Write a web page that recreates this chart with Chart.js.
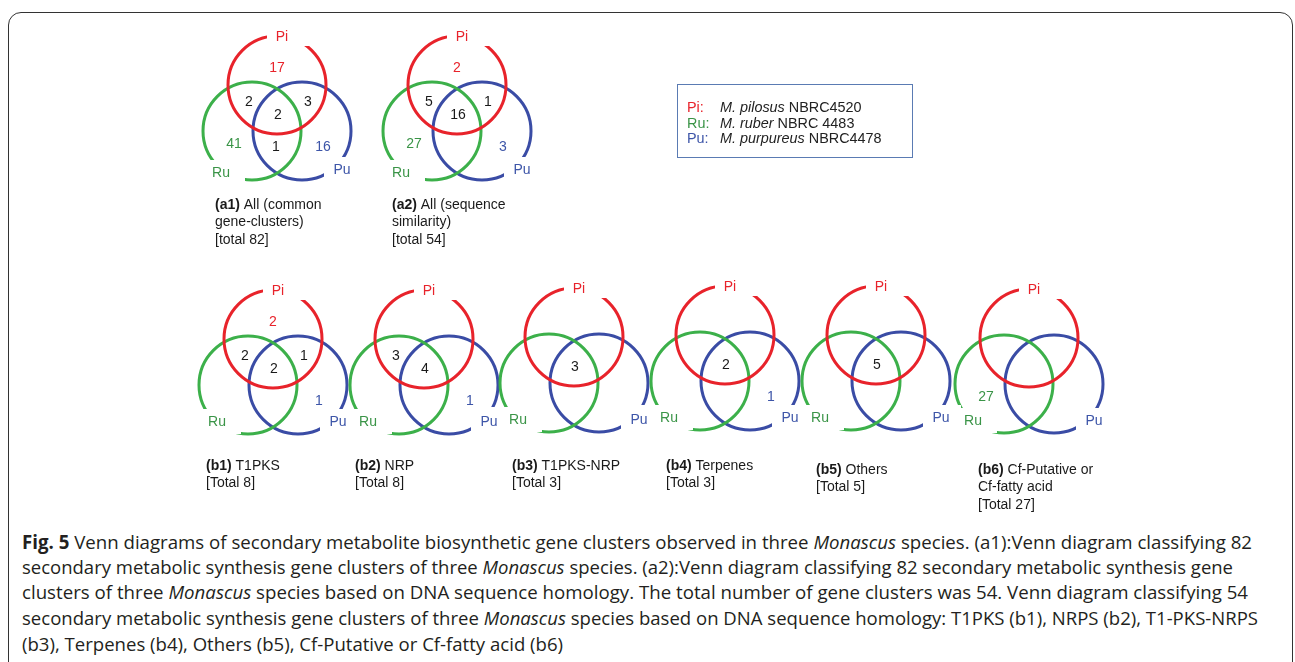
<!DOCTYPE html>
<html>
<head>
<meta charset="utf-8">
<script src="https://cdn.jsdelivr.net/npm/chart.js@4.4.0/dist/chart.umd.min.js"></script>
<style>
    body { margin: 0; background: #fff; width: 1295px; height: 662px; overflow: hidden; position: relative; font-family: "Liberation Sans", Arial, sans-serif; }
    #frame { position: absolute; left: 8px; top: 12px; width: 1285px; height: 720px; border: 1.5px solid #333; border-radius: 13px; box-sizing: border-box; }
    #venn { position: absolute; left: 0; top: 0; }
    #key { position: absolute; left: 677px; top: 84px; width: 236px; height: 74px; border: 1.5px solid #5a7bb3; box-sizing: border-box; padding: 15px 0 0 9px; font-size: 14.4px; line-height: 15.5px; color: #222; }
    #key div { white-space: nowrap; }
    #key b { display: inline-block; width: 33px; font-weight: normal; }
    .cap { position: absolute; left: 22px; white-space: nowrap; font-family: "Open Sans", sans-serif; font-size: 19px; line-height: 26px; color: #231f20; transform-origin: 0 50%; display: inline-block; }
</style>
</head>
<body>
<div id="frame"></div>
<canvas id="venn" width="1295" height="520"></canvas>
<div id="key">
    <div><b style="color:#e8232b">Pi:</b><i>M. pilosus</i> NBRC4520</div>
    <div><b style="color:#3a9447">Ru:</b><i>M. ruber</i> NBRC 4483</div>
    <div><b style="color:#3d55a8">Pu:</b><i>M. purpureus</i> NBRC4478</div>
</div>
<span class="cap" style="top:529px"><b style="font-weight:700">Fig. 5</b> Venn diagrams of secondary metabolite biosynthetic gene clusters observed in three <i>Monascus</i> species. (a1):Venn diagram classifying 82</span>
<span class="cap" style="top:554px">secondary metabolic synthesis gene clusters of three <i>Monascus</i> species. (a2):Venn diagram classifying 82 secondary metabolic synthesis gene</span>
<span class="cap" style="top:579px">clusters of three <i>Monascus</i> species based on DNA sequence homology. The total number of gene clusters was 54. Venn diagram classifying 54</span>
<span class="cap" style="top:605px">secondary metabolic synthesis gene clusters of three <i>Monascus</i> species based on DNA sequence homology: T1PKS (b1), NRPS (b2), T1-PKS-NRPS</span>
<span class="cap" style="top:631px">(b3), Terpenes (b4), Others (b5), Cf-Putative or Cf-fatty acid (b6)</span>
<script>
// Données des diagrammes
const panels = ["(a1)", "(a2)", "(b1)", "(b2)", "(b3)", "(b4)", "(b5)", "(b6)"];
const panelTitles = [
    ["All (common", "gene-clusters)", "[total 82]"],
    ["All (sequence", "similarity)", "[total 54]"],
    ["T1PKS", "[Total 8]"],
    ["NRP", "[Total 8]"],
    ["T1PKS-NRP", "[Total 3]"],
    ["Terpenes", "[Total 3]"],
    ["Others", "[Total 5]"],
    ["Cf-Putative or", "Cf-fatty acid", "[Total 27]"],
];
const piOnly   = [17, 2, 2, 0, 0, 0, 0, 0];
const ruOnly   = [41, 27, 0, 0, 0, 0, 0, 27];
const puOnly   = [16, 3, 1, 1, 0, 1, 0, 0];
const piRu     = [2, 5, 2, 3, 0, 0, 0, 0];
const piPu     = [3, 1, 1, 0, 0, 0, 0, 0];
const ruPu     = [1, 0, 0, 0, 0, 0, 0, 0];
const allThree = [2, 16, 2, 4, 3, 2, 5, 0];

// Mise en page
const centerX = [277, 457, 273, 424, 574, 725, 876, 1029];
const centerY = [85, 85, 339, 339, 337, 335, 335, 338];
const captionX = [215, 392, 206, 355, 512, 666, 816, 978];
const captionY = [205, 205, 466, 466, 466, 466, 470, 470];
const R = 49;
const RED = "#e8232b", GREEN = "#3cb04a", BLUE = "#3a4ca5";
const GREEN_TXT = "#3a9447", BLUE_TXT = "#3d55a8", INK = "#1a1a1a";

const regions = [
    { vals: piOnly, dx: 0, dy: -17, color: RED },
    { vals: ruOnly, dx: -43, dy: 59, color: GREEN_TXT },
    { vals: puOnly, dx: 46, dy: 62, color: BLUE_TXT },
    { vals: piRu, dx: -28, dy: 17, color: INK },
    { vals: piPu, dx: 31, dy: 17, color: INK },
    { vals: ruPu, dx: -1, dy: 62, color: INK },
    { vals: allThree, dx: 1, dy: 30, color: INK },
];

const countPoints = [];
panels.forEach((p, i) => {
    regions.forEach((r) => {
        if (r.vals[i] > 0) {
            countPoints.push({ x: centerX[i] + r.dx, y: centerY[i] + r.dy, v: r.vals[i], color: r.color });
        }
    });
});

function circleDataset(dx, dy, color) {
    return {
        data: centerX.map((x, i) => ({ x: x + dx, y: centerY[i] + dy })),
        pointRadius: R,
        pointHoverRadius: R,
        pointBorderWidth: 3,
        pointBorderColor: color,
        pointBackgroundColor: "rgba(0,0,0,0)",
        showLine: false,
        clip: false,
    };
}

const vennText = {
    id: "vennText",
    afterDatasetsDraw(chart) {
        const c = chart.ctx;
        const xs = chart.scales.x, ys = chart.scales.y;
        c.save();
        c.textAlign = "center";
        c.textBaseline = "middle";
        c.font = "14px 'Liberation Sans', Arial, sans-serif";

        // étiquettes Pi / Ru / Pu avec fond blanc
        const labels = [];
        panels.forEach((p, i) => {
            const row = i < 2 ? 0 : 1;
            const px = xs.getPixelForValue(centerX[i]);
            const py = ys.getPixelForValue(centerY[i]);
            labels.push(
                { t: "Pi", x: px + 5, y: py - 48, box: [-15, -10, 30, 9], color: RED },
                { t: "Ru", x: px - 25 - 31, y: py + 46 + (row ? 37 : 42), box: [-30, -13, 24, 12], color: GREEN_TXT },
                { t: "Pu", x: px + 25 + 40, y: py + 46 + (row ? 37 : 39), box: [-18, -13, 20, 12], color: BLUE_TXT }
            );
        });
        c.fillStyle = "#fff";
        labels.forEach((l) => {
            c.fillRect(l.x + l.box[0], l.y + l.box[1], l.box[2] - l.box[0], l.box[3] - l.box[1]);
        });
        labels.forEach((l) => {
            c.fillStyle = l.color;
            c.fillText(l.t, l.x, l.y);
        });

        const meta = chart.getDatasetMeta(3);
        meta.data.forEach((el, j) => {
            const d = chart.data.datasets[3].data[j];
            c.fillStyle = d.color;
            c.fillText(String(d.v), el.x, el.y);
        });

        c.textAlign = "left";
        c.fillStyle = INK;
        panels.forEach((p, i) => {
            const x = xs.getPixelForValue(captionX[i]);
            let y = ys.getPixelForValue(captionY[i]);
            panelTitles[i].forEach((line, k) => {
                if (k === 0) {
                    c.font = "bold 14px 'Liberation Sans', Arial, sans-serif";
                    c.fillText(p, x, y);
                    const w = c.measureText(p + " ").width;
                    c.font = "14px 'Liberation Sans', Arial, sans-serif";
                    c.fillText(line, x + w, y);
                } else {
                    c.fillText(line, x, y);
                }
                y += 17.5;
            });
        });
        c.restore();
    },
};

new Chart(document.getElementById("venn"), {
    type: "scatter",
    data: {
        datasets: [
            circleDataset(0, 0, RED),
            circleDataset(-25, 46, GREEN),
            circleDataset(25, 46, BLUE),
            { data: countPoints, pointRadius: 0, pointHoverRadius: 0 },
        ],
    },
    options: {
        responsive: false,
        animation: false,
        devicePixelRatio: 1,
        events: [],
        layout: { padding: 0, autoPadding: false },
        scales: {
            x: { type: "linear", min: 0, max: 1295, display: false },
            y: { type: "linear", min: 0, max: 520, reverse: true, display: false },
        },
        plugins: { legend: { display: false }, tooltip: { enabled: false } },
    },
    plugins: [vennText],
});

// Ajuste la largeur des lignes de la légende
const capEnds = [1252, 1233, 1248, 1258, 563];
document.querySelectorAll(".cap").forEach((el, i) => {
    const w = el.getBoundingClientRect().width;
    el.style.transform = "scaleX(" + ((capEnds[i] - 22) / w) + ")";
});
</script>
</body>
</html>
